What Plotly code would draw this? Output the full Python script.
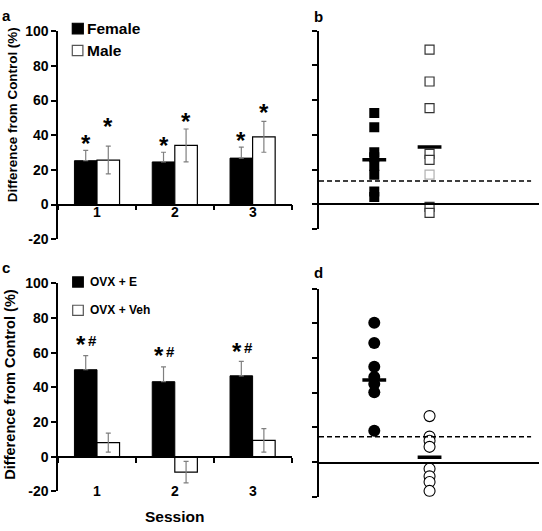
import plotly.graph_objects as go

# ---------------- data ----------------
sessions = ["1", "2", "3"]

# panel a (Female vs Male, mean +/- SEM per session)
female_mean = [25.3, 24.6, 26.8]
female_sem = [6.0, 5.6, 6.3]
male_mean = [25.7, 34.1, 39.1]
male_sem = [8.0, 9.5, 8.9]
sig_female = [36.9, 35.4, 38.2]   # height of '*' marks
sig_male = [46.2, 49.3, 54.6]

# panel c (OVX + E vs OVX + Veh)
e_mean = [50.2, 43.3, 46.7]
e_sem = [8.1, 8.6, 8.3]
veh_mean = [8.1, -8.9, 9.4]
veh_sem = [5.5, 6.2, 6.8]
sig_e = [66.4, 59.8, 62.1]        # height of '*#' marks

# panel b (individual animals)
groups_b = ["Female", "Male"]
female_ind = [52.6, 44.4, 30.0, 27.0, 22.0, 17.0, 7.4, 4.2]
male_ind = [89.0, 70.7, 55.4, 29.0, 25.5, 17.0, -1.5, -5.0]
group_means_b = [25.6, 33.0]
threshold_b = 13.4

# panel d (individual animals)
groups_d = ["OVX + E", "OVX + Veh"]
e_ind = [80.3, 68.7, 54.9, 49.0, 45.0, 40.3, 18.1]
veh_ind = [26.5, 14.7, 12.3, 8.8, -3.8, -8.2, -11.5, -16.6]
group_means_d = [47.3, 2.8]
threshold_d = 14.6

y_ticks = [-20, 0, 20, 40, 60, 80, 100]

# ---------------- layout helpers ----------------
W, H = 542, 531
FONT = "Liberation Sans, Arial, sans-serif"


def px_x(p):
    return p / W


def px_y(p):
    return 1 - p / H


BARGAP = 0.42
bar_off = (1 - BARGAP) / 4.0  # centre offset of each bar in a group

fig = go.Figure()

err_col = "#7f7f7f"

# panel a bars
fig.add_trace(go.Bar(x=sessions, y=female_mean, name="Female",
                     marker=dict(color="black", line=dict(color="black", width=1)),
                     error_y=dict(type="data", array=female_sem, symmetric=False,
                                  arrayminus=[0] * len(female_sem), color=err_col,
                                  thickness=1.2, width=2.5),
                     xaxis="x", yaxis="y", showlegend=False))
fig.add_trace(go.Bar(x=sessions, y=male_mean, name="Male",
                     marker=dict(color="white", line=dict(color="black", width=1.2)),
                     error_y=dict(type="data", array=male_sem, color=err_col,
                                  thickness=1.2, width=2.5),
                     xaxis="x", yaxis="y", showlegend=False))

# panel c bars
fig.add_trace(go.Bar(x=sessions, y=e_mean, name="OVX + E",
                     marker=dict(color="black", line=dict(color="black", width=1)),
                     error_y=dict(type="data", array=e_sem, symmetric=False,
                                  arrayminus=[0] * len(e_sem), color=err_col,
                                  thickness=1.2, width=2.5),
                     xaxis="x3", yaxis="y3", showlegend=False))
fig.add_trace(go.Bar(x=sessions, y=veh_mean, name="OVX + Veh",
                     marker=dict(color="white", line=dict(color="black", width=1.2)),
                     error_y=dict(type="data", array=veh_sem, color=err_col,
                                  thickness=1.2, width=2.5),
                     xaxis="x3", yaxis="y3", showlegend=False))

# panel b scatter
fig.add_trace(go.Scatter(x=[groups_b[0]] * len(female_ind), y=female_ind, mode="markers",
                         marker=dict(symbol="square", size=10, color="black"),
                         xaxis="x2", yaxis="y2", showlegend=False))
male_line_cols = ["#333333" if v != 17.0 else "#b0b0b0" for v in male_ind]
fig.add_trace(go.Scatter(x=[groups_b[1]] * len(male_ind), y=male_ind, mode="markers",
                         marker=dict(symbol="square", size=9, color="white",
                                     line=dict(color=male_line_cols, width=1.2)),
                         xaxis="x2", yaxis="y2", showlegend=False))
fig.add_trace(go.Scatter(x=groups_b, y=group_means_b, mode="markers",
                         marker=dict(symbol="line-ew", size=17,
                                     line=dict(color="black", width=3.5)),
                         xaxis="x2", yaxis="y2", showlegend=False))

# panel d scatter
fig.add_trace(go.Scatter(x=[groups_d[0]] * len(e_ind), y=e_ind, mode="markers",
                         marker=dict(symbol="circle", size=12, color="black"),
                         xaxis="x4", yaxis="y4", showlegend=False))
fig.add_trace(go.Scatter(x=[groups_d[1]] * len(veh_ind), y=veh_ind, mode="markers",
                         marker=dict(symbol="circle", size=11, color="white",
                                     line=dict(color="black", width=1.1)),
                         xaxis="x4", yaxis="y4", showlegend=False))
fig.add_trace(go.Scatter(x=groups_d, y=group_means_d, mode="markers",
                         marker=dict(symbol="line-ew", size=17,
                                     line=dict(color="black", width=3.5)),
                         xaxis="x4", yaxis="y4", showlegend=False))

# ---------------- axes ----------------
xdom_left = [px_x(58.1), px_x(291.5)]
xdom_right = [px_x(319), px_x(539)]

common_x = dict(showgrid=False, zeroline=False, showline=True, linecolor="black",
                linewidth=1.5, showticklabels=False, fixedrange=True)
common_y = dict(showgrid=False, zeroline=False, showline=True, linecolor="black",
                linewidth=1.5, ticks="outside", ticklen=5, tickwidth=1.5,
                tickcolor="black", fixedrange=True)

tickfont = dict(family=FONT, size=14, color="black", weight="bold")

fig.update_layout(
    xaxis=dict(domain=xdom_left, type="category", categoryorder="array",
               categoryarray=sessions, range=[-0.5, 2.5], anchor="free",
               position=px_y(202.7), ticks="outside", tickson="boundaries",
               ticklen=5, tickwidth=1.5, tickcolor="black", **common_x),
    yaxis=dict(domain=[px_y(238.4), px_y(24.0)], range=[-20, 100], anchor="x",
               tickvals=y_ticks, ticktext=[str(v) for v in y_ticks],
               tickfont=tickfont, **common_y),
    xaxis2=dict(domain=xdom_right, type="category", categoryorder="array",
                categoryarray=groups_b, range=[-1, 2.98], anchor="free",
                position=px_y(202.3), ticks="", **common_x),
    yaxis2=dict(domain=[px_y(228.3), px_y(23.3)], range=[-14.5, 100], anchor="x2",
                tickvals=[-14.5] + y_ticks[1:], showticklabels=False, **common_y),
    xaxis3=dict(domain=xdom_left, type="category", categoryorder="array",
                categoryarray=sessions, range=[-0.5, 2.5], anchor="free",
                position=px_y(462.7), ticks="outside", tickson="boundaries",
                ticklen=5, tickwidth=1.5, tickcolor="black", **common_x),
    yaxis3=dict(domain=[px_y(498.4), px_y(284.0)], range=[-20, 100], anchor="x3",
                tickvals=y_ticks, ticktext=[str(v) for v in y_ticks],
                tickfont=tickfont, **common_y),
    xaxis4=dict(domain=xdom_right, type="category", categoryorder="array",
                categoryarray=groups_d, range=[-1, 2.98], anchor="free",
                position=px_y(468.7), ticks="", **common_x),
    yaxis4=dict(domain=[px_y(504.0), px_y(289.3)], range=[-20, 100], anchor="x4",
                tickvals=y_ticks, showticklabels=False, **common_y),
    barmode="group", bargap=BARGAP, bargroupgap=0,
    width=W, height=H, margin=dict(l=0, r=0, t=0, b=0),
    paper_bgcolor="white", plot_bgcolor="rgba(0,0,0,0)",
    font=dict(family=FONT, color="black"),
)

# threshold (dashed) lines
for xr, yr, thr in (("x2", "y2", threshold_b), ("x4", "y4", threshold_d)):
    fig.add_shape(type="line", xref=f"{xr} domain", yref=yr, x0=0, x1=0.964,
                  y0=thr, y1=thr, line=dict(color="black", width=1.5, dash="5px,3px"))

# ---------------- annotations ----------------
ann = []
bold = lambda s: dict(family=FONT, size=s, color="black", weight="bold")

# x tick labels
for i, s in enumerate(sessions):
    ann.append(dict(x=i, y=0, xref="x", yref="y", text=s, showarrow=False,
                    yanchor="middle", yshift=-7, font=bold(14)))
    ann.append(dict(x=i, y=-20, xref="x3", yref="y3", text=s, showarrow=False,
                    yanchor="middle", font=bold(14)))

# significance marks
AST = 24
for i in range(len(sessions)):
    ann.append(dict(x=i - bar_off, y=sig_female[i], xref="x", yref="y", text="*",
                    showarrow=False, yanchor="middle", yshift=-0.1 * AST, font=bold(AST)))
    ann.append(dict(x=i + bar_off, y=sig_male[i], xref="x", yref="y", text="*",
                    showarrow=False, yanchor="middle", yshift=-0.1 * AST, font=bold(AST)))
    ann.append(dict(x=i - bar_off, y=sig_e[i], xref="x3", yref="y3", text="*",
                    showarrow=False, yanchor="middle", xshift=-4.5,
                    yshift=-0.1 * AST, font=bold(AST)))
    ann.append(dict(x=i - bar_off, y=sig_e[i], xref="x3", yref="y3", text="#",
                    showarrow=False, yanchor="middle", xshift=6.8, yshift=1.5,
                    font=bold(15)))

# y-axis titles
ann.append(dict(x=px_x(12.5), y=px_y(110), xref="paper", yref="paper",
                text="Difference from Control (%)", textangle=-90, showarrow=False,
                xanchor="center", yanchor="middle", font=bold(13.4)))
ann.append(dict(x=px_x(9.7), y=px_y(387.8), xref="paper", yref="paper",
                text="Difference from Control (%)", textangle=-90, showarrow=False,
                xanchor="center", yanchor="middle", font=bold(14.6)))

# x-axis title
ann.append(dict(x=px_x(174.7), y=px_y(524.0), xref="paper", yref="paper",
                text="Session", showarrow=False, xanchor="center", yanchor="middle",
                font=bold(15.5)))

# panel letters
for letter, xp, yp in (("a", 6, 8.0), ("b", 318, 8.7), ("c", 6.3, 268), ("d", 318, 273)):
    ann.append(dict(x=px_x(xp), y=px_y(yp), xref="paper", yref="paper", text=letter,
                    showarrow=False, xanchor="center", yanchor="middle", font=bold(15)))

# legends (text)
ann.append(dict(x=px_x(85), y=px_y(20.8), xref="paper", yref="paper", text="Female",
                showarrow=False, xanchor="left", yanchor="middle", font=bold(15.5)))
ann.append(dict(x=px_x(85), y=px_y(43.8), xref="paper", yref="paper", text="Male",
                showarrow=False, xanchor="left", yanchor="middle", font=bold(15.5)))
ann.append(dict(x=px_x(88.3), y=px_y(282.7), xref="paper", yref="paper", text="OVX + E",
                showarrow=False, xanchor="left", yanchor="middle", font=bold(12)))
ann.append(dict(x=px_x(88.3), y=px_y(311.7), xref="paper", yref="paper", text="OVX + Veh",
                showarrow=False, xanchor="left", yanchor="middle", font=bold(12)))

fig.update_layout(annotations=ann)

# legend keys
keys = [((72.3, 83.3, 15.7, 26.7), "black", "black"),
        ((72.3, 82.9, 38.6, 49.2), "white", "#555555"),
        ((72.7, 83.3, 277.3, 287.7), "black", "black"),
        ((72.7, 83.3, 306.5, 316.9), "white", "#555555")]
for (x0, x1, y0, y1), fill, lc in keys:
    fig.add_shape(type="rect", xref="paper", yref="paper",
                  x0=px_x(x0), x1=px_x(x1), y0=px_y(y1), y1=px_y(y0),
                  fillcolor=fill, line=dict(color=lc, width=1.2))

fig.write_html("out.html",
               config={"displayModeBar": False},
               post_script="document.body.style.margin='0';"
                           "document.body.style.overflow='hidden';")
